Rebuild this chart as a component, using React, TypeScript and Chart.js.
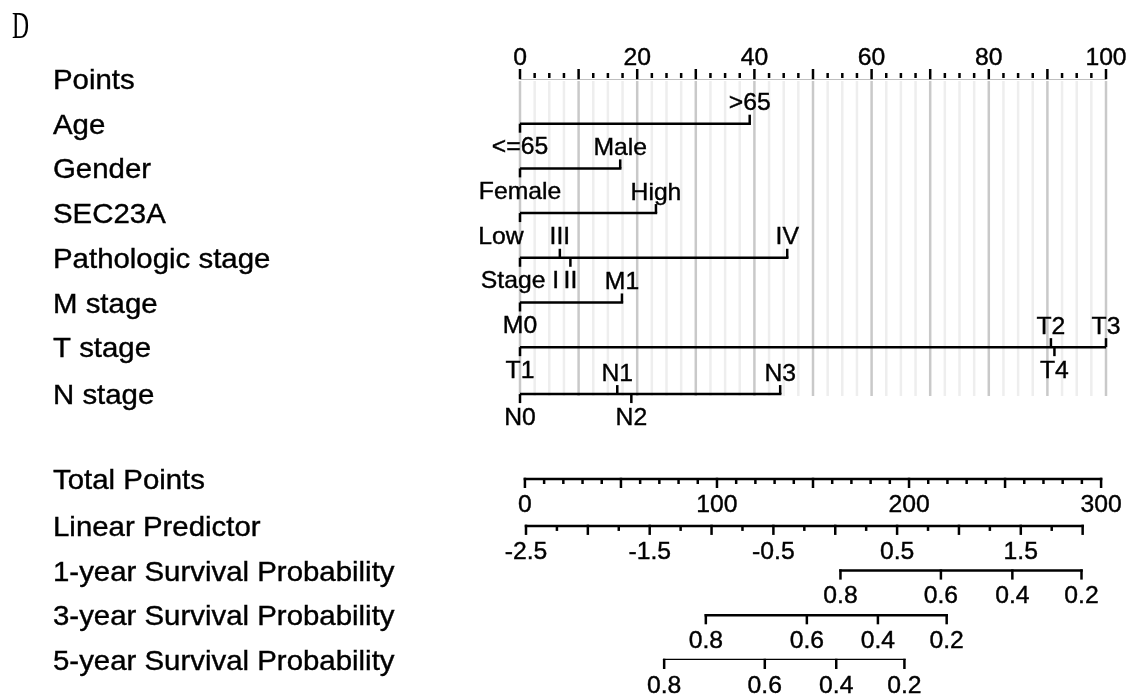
import React, { useEffect, useRef } from "react";
import { Chart, registerables } from "chart.js";

Chart.register(...registerables);

// ---------------- data ----------------
const PANEL_LETTER = "D";

const ROW_LABELS = [
  "Points",
  "Age",
  "Gender",
  "SEC23A",
  "Pathologic stage",
  "M stage",
  "T stage",
  "N stage",
  "Total Points",
  "Linear Predictor",
  "1-year Survival Probability",
  "3-year Survival Probability",
  "5-year Survival Probability",
];
const ROW_POS = [0, 1, 2, 3, 4, 5, 6, 7.05, 8.95, 10, 11, 12, 13];

const POINTS_LABELS = [0, 20, 40, 60, 80, 100];
const POINTS_MAJOR_TICKS = [0, 10, 20, 30, 40, 50, 60, 70, 80, 90, 100];
const POINTS_MINOR_STEP = 2.5;

const AGE_LEVELS = ["<=65", ">65"];
const AGE_POINTS = [0, 39.2];
const GENDER_LEVELS = ["Female", "Male"];
const GENDER_POINTS = [0, 17.1];
const SEC23A_LEVELS = ["Low", "High"];
const SEC23A_POINTS = [0, 23.2];
const PSTAGE_LEVELS = ["Stage I", "III", "II", "IV"];
const PSTAGE_POINTS = [0, 6.8, 8.6, 45.6];
const MSTAGE_LEVELS = ["M0", "M1"];
const MSTAGE_POINTS = [0, 17.4];
const TSTAGE_LEVELS = ["T1", "T2", "T4", "T3"];
const TSTAGE_POINTS = [0, 90.6, 91.2, 100];
const NSTAGE_LEVELS = ["N0", "N1", "N2", "N3"];
const NSTAGE_POINTS = [0, 16.6, 19.0, 44.4];

const VARIABLE_LEVELS = [AGE_LEVELS, GENDER_LEVELS, SEC23A_LEVELS, PSTAGE_LEVELS, MSTAGE_LEVELS, TSTAGE_LEVELS, NSTAGE_LEVELS];
const VARIABLE_POINTS = [AGE_POINTS, GENDER_POINTS, SEC23A_POINTS, PSTAGE_POINTS, MSTAGE_POINTS, TSTAGE_POINTS, NSTAGE_POINTS];

const TOTAL_LABELS = [0, 100, 200, 300];
const TOTAL_MAJOR_TICKS = [0, 50, 100, 150, 200, 250, 300];
const TOTAL_MINOR_STEP = 10;

const LP_LABELS = [-2.5, -1.5, -0.5, 0.5, 1.5];
const LP_MAJOR_TICKS = [-2.5, -2, -1.5, -1, -0.5, 0, 0.5, 1, 1.5, 2];
const LP_MINOR_STEP = 0.25;

const SURV_LABELS = ["0.8", "0.6", "0.4", "0.2"];
const SURV_1Y_TOTAL = [164.3, 216.6, 253.8, 289.8];
const SURV_3Y_TOTAL = [94.2, 146.8, 183.8, 219.6];
const SURV_5Y_TOTAL = [72.5, 124.9, 162.1, 197.6];
const SURV_ROWS = [SURV_1Y_TOTAL, SURV_3Y_TOTAL, SURV_5Y_TOTAL];

// ---------------- styles ----------------
const FONT = "'Liberation Sans', Arial, sans-serif";
const SERIF = "'Liberation Serif', 'DejaVu Serif', serif";
const ROW_FONT = 28;
const ROW_SX = 1.05;
const TICK_FONT = 24;
const TICK_SX = 1.03;
const TEXT_STROKE = 0.4;
const LW = 2.5;
const MAJOR_LEN = 9;
const MINOR_LEN = 5;
const LABEL_GAP = 22;
const AXIS_LABEL_GAP = 24;
const GRID_MAJOR = "#c9c9c9";
const GRID_MINOR = "#eeeeee";
const LABEL_DX: Record<string, number> = { Low: -19 };

function range(a: number, b: number, step: number): number[] {
  const out: number[] = [];
  const n = Math.round((b - a) / step);
  for (let i = 0; i <= n; i++) out.push(+(a + i * step).toFixed(6));
  return out;
}
function minorOnly(all: number[], major: number[]) {
  return all.filter((v) => !major.some((m) => Math.abs(m - v) < 1e-6));
}

function drawText(ctx: CanvasRenderingContext2D, s: string, x: number, yc: number, size: number, align: CanvasTextAlign, sx: number, family = FONT, stroke = TEXT_STROKE) {
  ctx.save();
  ctx.font = `${size}px ${family}`;
  ctx.fillStyle = "#000";
  ctx.strokeStyle = "#000";
  ctx.textAlign = align;
  ctx.textBaseline = "alphabetic";
  ctx.translate(x, yc + size * 0.36);
  ctx.scale(sx, 1);
  ctx.fillText(s, 0, 0);
  if (stroke > 0) {
    ctx.lineWidth = stroke;
    ctx.strokeText(s, 0, 0);
  }
  ctx.restore();
}

function vline(ctx: CanvasRenderingContext2D, x: number, y0: number, y1: number) {
  ctx.beginPath();
  ctx.moveTo(x, y0);
  ctx.lineTo(x, y1);
  ctx.stroke();
}

const nomogramPlugin = {
  id: "nomogram",
  beforeDatasetsDraw(chart: any) {
    const { ctx, scales } = chart;
    const xs = scales.x;
    const ys = scales.y;
    const top = ys.getPixelForValue(ROW_POS[0]) + 2;
    const bot = ys.getPixelForValue(ROW_POS[7]) + 2;
    const minor = minorOnly(range(0, 100, POINTS_MINOR_STEP), POINTS_MAJOR_TICKS);
    ctx.save();
    ctx.lineWidth = LW;
    ctx.strokeStyle = GRID_MINOR;
    minor.forEach((v) => vline(ctx, xs.getPixelForValue(v), top, bot));
    ctx.strokeStyle = GRID_MAJOR;
    POINTS_MAJOR_TICKS.forEach((v) => vline(ctx, xs.getPixelForValue(v), top, bot));
    ctx.restore();
  },
  afterDatasetsDraw(chart: any) {
    const { ctx, scales } = chart;
    const xs = scales.x;
    const xt = scales.xt;
    const xl = scales.xlp;
    const ys = scales.y;
    ctx.save();
    ctx.strokeStyle = "#000";
    ctx.lineWidth = LW;
    ctx.lineCap = "butt";

    // panel letter
    drawText(ctx, PANEL_LETTER, 12, 24, 38, "left", 0.62, SERIF, 0);

    // row labels
    ROW_LABELS.forEach((lab, i) => drawText(ctx, lab, 53, ys.getPixelForValue(ROW_POS[i]), ROW_FONT, "left", ROW_SX));

    // Points axis (ticks up, labels above)
    const py = ys.getPixelForValue(ROW_POS[0]) - 1;
    minorOnly(range(0, 100, POINTS_MINOR_STEP), POINTS_MAJOR_TICKS).forEach((v) => vline(ctx, xs.getPixelForValue(v), py, py - MINOR_LEN));
    POINTS_MAJOR_TICKS.forEach((v) => vline(ctx, xs.getPixelForValue(v), py + LW / 2, py - MAJOR_LEN));
    POINTS_LABELS.forEach((v) => drawText(ctx, String(v), xs.getPixelForValue(v), py - 22, TICK_FONT, "center", TICK_SX));

    // variables
    VARIABLE_LEVELS.forEach((levels, vi) => {
      const ly = ys.getPixelForValue(ROW_POS[vi + 1]);
      const pts = VARIABLE_POINTS[vi];
      levels.forEach((lab, k) => {
        const px = xs.getPixelForValue(pts[k]);
        const above = k % 2 === 1;
        vline(ctx, px, ly, above ? ly - MAJOR_LEN : ly + MAJOR_LEN);
        drawText(ctx, lab, px + (LABEL_DX[lab] || 0), above ? ly - LABEL_GAP : ly + LABEL_GAP, TICK_FONT, "center", TICK_SX);
      });
    });

    // Total points axis (ticks down, labels below)
    const ty = ys.getPixelForValue(ROW_POS[8]);
    minorOnly(range(0, 300, TOTAL_MINOR_STEP), TOTAL_MAJOR_TICKS).forEach((v) => vline(ctx, xt.getPixelForValue(v), ty, ty + MINOR_LEN));
    TOTAL_MAJOR_TICKS.forEach((v) => vline(ctx, xt.getPixelForValue(v), ty - LW / 2, ty + MAJOR_LEN));
    TOTAL_LABELS.forEach((v) => drawText(ctx, String(v), xt.getPixelForValue(v), ty + AXIS_LABEL_GAP, TICK_FONT, "center", TICK_SX));

    // Linear predictor axis
    const ly = ys.getPixelForValue(ROW_POS[9]);
    minorOnly(range(-2.5, 2, LP_MINOR_STEP), LP_MAJOR_TICKS).forEach((v) => vline(ctx, xl.getPixelForValue(v), ly, ly + MINOR_LEN));
    LP_MAJOR_TICKS.forEach((v) => vline(ctx, xl.getPixelForValue(v), ly - LW / 2, ly + MAJOR_LEN));
    LP_LABELS.forEach((v) => drawText(ctx, String(v), xl.getPixelForValue(v), ly + AXIS_LABEL_GAP, TICK_FONT, "center", TICK_SX));

    // survival axes
    SURV_ROWS.forEach((vals, si) => {
      const sy = ys.getPixelForValue(ROW_POS[10 + si]);
      vals.forEach((v, k) => {
        const px = xt.getPixelForValue(v);
        vline(ctx, px, sy - LW / 2, sy + MAJOR_LEN);
        drawText(ctx, SURV_LABELS[k], px, sy + AXIS_LABEL_GAP, TICK_FONT, "center", TICK_SX);
      });
    });
    ctx.restore();
  },
};

function seg(x0: number, x1: number, row: number, axis: string) {
  return {
    data: [
      { x: x0, y: row },
      { x: x1, y: row },
    ],
    xAxisID: axis,
    yAxisID: "y",
    showLine: true,
    borderColor: "#000",
    borderWidth: LW,
    borderCapStyle: "square",
    pointRadius: 0,
    pointHoverRadius: 0,
    fill: false,
  };
}

export default function App() {
  const ref = useRef<HTMLCanvasElement | null>(null);
  useEffect(() => {
    document.body.style.margin = "0";
    document.body.style.background = "#fff";
    const canvas = ref.current;
    if (!canvas) return;
    const datasets: any[] = [];
    datasets.push(seg(POINTS_MAJOR_TICKS[0], POINTS_MAJOR_TICKS[POINTS_MAJOR_TICKS.length - 1], ROW_POS[0] - 0.022, "x"));
    VARIABLE_POINTS.forEach((pts, vi) => {
      datasets.push(seg(Math.min(...pts), Math.max(...pts), ROW_POS[vi + 1], "x"));
    });
    datasets.push(seg(TOTAL_MAJOR_TICKS[0], TOTAL_MAJOR_TICKS[TOTAL_MAJOR_TICKS.length - 1], ROW_POS[8], "xt"));
    datasets.push(seg(LP_MAJOR_TICKS[0], LP_MAJOR_TICKS[LP_MAJOR_TICKS.length - 1], ROW_POS[9], "xlp"));
    SURV_ROWS.forEach((vals, si) => datasets.push(seg(Math.min(...vals), Math.max(...vals), ROW_POS[10 + si], "xt")));

    const chart = new Chart(canvas, {
      type: "scatter",
      data: { datasets },
      options: {
        responsive: false,
        animation: false,
        devicePixelRatio: 1,
        layout: { padding: { left: 520, right: 24, top: 79, bottom: 38 } },
        plugins: { legend: { display: false }, tooltip: { enabled: false } },
        events: [],
        scales: {
          x: { type: "linear", min: 0, max: 100, display: false },
          xt: { type: "linear", axis: "x", min: -2.56, max: 302.56, display: false },
          xlp: { type: "linear", axis: "x", min: -2.5485, max: 2.1888, display: false },
          y: { type: "linear", min: 0, max: 13, reverse: true, display: false },
        },
      } as any,
      plugins: [nomogramPlugin as any],
    });
    return () => chart.destroy();
  }, []);
  return <canvas ref={ref} width={1130} height={698} style={{ display: "block", width: 1130, height: 698 }} />;
}
